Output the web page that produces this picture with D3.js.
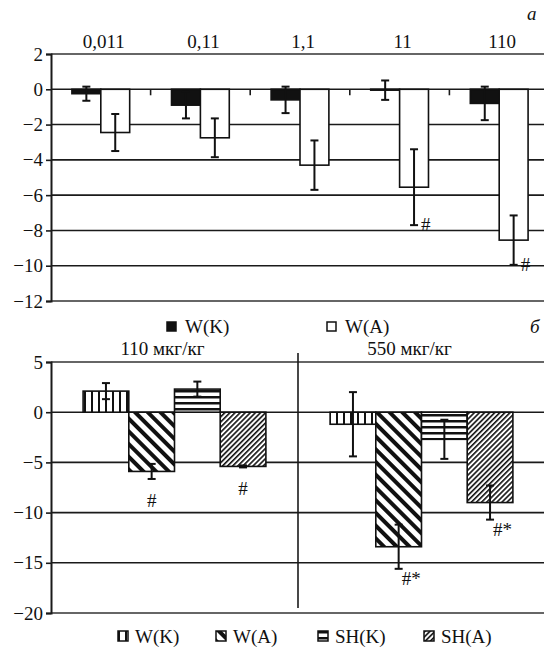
<!DOCTYPE html>
<html>
<head>
<meta charset="utf-8">
<script src="https://cdn.jsdelivr.net/npm/d3@7"></script>
<style>
  body { margin: 0; background: #fff; }
  svg { display: block; font-family: "Liberation Serif", "DejaVu Serif", serif; }
</style>
</head>
<body>
<svg id="chart" width="544" height="649"></svg>
<script>
// panel a
const doses = ['0,011', '0,11', '1,1', '11', '110'];
const seriesA = ['W(K)', 'W(A)'];
const wK = [-0.25, -0.9, -0.6, -0.05, -0.8];
const wKerr = [0.4, 0.75, 0.75, 0.55, 0.95];
const wA = [-2.45, -2.75, -4.3, -5.55, -8.55];
const wAerr = [1.05, 1.1, 1.4, 2.15, 1.4];
const wAmarks = ['', '', '', '#', '#'];
const ticksA = [2, 0, -2, -4, -6, -8, -10, -12];

// panel б
const doses2 = ['110 мкг/кг', '550 мкг/кг'];
const seriesB = ['W(K)', 'W(A)', 'SH(K)', 'SH(A)'];
const wK2 = [2.1, -1.2];
const wK2err = [0.8, 3.2];
const wA2 = [-5.9, -13.4];
const wA2err = [0.75, 2.2];
const shK2 = [2.3, -2.7];
const shK2err = [0.75, 1.95];
const shA2 = [-5.4, -9.0];
const shA2err = [0.1, 1.7];
const wA2marks = ['#', '#*'];
const shA2marks = ['#', '#*'];
const ticksB = [5, 0, -5, -10, -15, -20];

const svg = d3.select('#chart');
const left = 51, right = 545;
const fs = 19;

// patterns
const defs = svg.append('defs');
function stripes(id, size, w, angle) {
  const p = defs.append('pattern')
    .attr('id', id)
    .attr('patternUnits', 'userSpaceOnUse')
    .attr('width', size).attr('height', size)
    .attr('patternTransform', `rotate(${angle})`);
  p.append('rect').attr('width', size).attr('height', size).attr('fill', '#fff');
  p.append('rect').attr('width', w).attr('height', size).attr('fill', '#111');
}
stripes('pWK', 7, 2, 0);
stripes('pWA', 9, 4, -45);
stripes('pSHK', 6, 2.5, 90);
stripes('pSHA', 3.6, 1.6, 45);

function grid(g, y, ticks) {
  g.selectAll('line.grid')
    .data(ticks)
    .enter().append('line')
    .attr('x1', left).attr('x2', 544)
    .attr('y1', d => y(d)).attr('y2', d => y(d))
    .attr('stroke', (d, i) => (i === 0 || i === ticks.length - 1) ? '#666' : '#1a1a1a')
    .attr('stroke-width', (d, i) => (i === 0 || i === ticks.length - 1) ? 2 : 1.6);
}

function yAxis(g, y, ticks) {
  const ax = g.append('g')
    .attr('transform', `translate(${left},0)`)
    .call(d3.axisLeft(y).tickValues(ticks).tickSize(5).tickPadding(3)
      .tickFormat(d => d < 0 ? '\u2212' + Math.abs(d) : d));
  ax.select('.domain').attr('stroke', '#1a1a1a').attr('stroke-width', 2);
  ax.selectAll('.tick line').attr('stroke', '#1a1a1a').attr('stroke-width', 1.6);
  ax.selectAll('text').attr('font-size', fs).attr('fill', '#111')
    .attr('font-family', '"Liberation Serif", serif');
}

function errBars(g, pts) {
  const e = g.selectAll(null).data(pts).enter().append('g')
    .attr('stroke', '#111').attr('stroke-width', 2);
  e.append('line')
    .attr('x1', d => d.x).attr('x2', d => d.x)
    .attr('y1', d => d.y0).attr('y2', d => d.y1);
  e.append('line')
    .attr('x1', d => d.x - 4).attr('x2', d => d.x + 4)
    .attr('y1', d => d.y0).attr('y2', d => d.y0);
  e.append('line')
    .attr('x1', d => d.x - 4).attr('x2', d => d.x + 4)
    .attr('y1', d => d.y1).attr('y2', d => d.y1);
}

// ---------- panel a ----------
const ya = d3.scaleLinear().domain([-12, 2]).range([301, 54]);
const xa = d3.scaleBand().domain(doses).range([left, 549]).paddingInner(0.42).paddingOuter(0.21);
const xaIn = d3.scaleBand().domain(seriesA).range([0, xa.bandwidth()]);
const ga = svg.append('g');

grid(ga, ya, ticksA);

// x ticks at zero line, between groups
ga.selectAll('line.xt')
  .data(doses.slice(1))
  .enter().append('line')
  .attr('x1', d => xa(d) - xa.step() * xa.paddingInner() / 2)
  .attr('x2', d => xa(d) - xa.step() * xa.paddingInner() / 2)
  .attr('y1', ya(0)).attr('y2', ya(0) + 6)
  .attr('stroke', '#1a1a1a').attr('stroke-width', 1.6);

const rowsA = doses.map((d, i) => [
  { dose: d, s: 'W(K)', v: wK[i], e: wKerr[i], fill: '#111' },
  { dose: d, s: 'W(A)', v: wA[i], e: wAerr[i], fill: '#fff', mark: wAmarks[i] }
]).flat();

ga.selectAll('rect.bar')
  .data(rowsA)
  .enter().append('rect')
  .attr('x', d => xa(d.dose) + xaIn(d.s))
  .attr('width', xaIn.bandwidth())
  .attr('y', d => ya(Math.max(0, d.v)))
  .attr('height', d => Math.abs(ya(d.v) - ya(0)))
  .attr('fill', d => d.fill)
  .attr('stroke', '#111').attr('stroke-width', 1.6);

errBars(ga, rowsA.map(d => ({
  x: xa(d.dose) + xaIn(d.s) + xaIn.bandwidth() / 2,
  y0: ya(d.v + d.e), y1: ya(d.v - d.e), d
})).map(p => p.d.s === 'W(K)' ? Object.assign(p, {}) : p));

ga.selectAll('text.mark')
  .data(rowsA.filter(d => d.mark))
  .enter().append('text')
  .attr('x', d => xa(d.dose) + xaIn(d.s) + xaIn.bandwidth() / 2 + 7)
  .attr('y', d => ya(d.v - d.e) + 6)
  .attr('font-size', fs).attr('fill', '#111')
  .text(d => d.mark);

yAxis(ga, ya, ticksA);

ga.selectAll('text.cat')
  .data(doses)
  .enter().append('text')
  .attr('x', d => xa(d) + xa.bandwidth() / 2 + 3)
  .attr('y', 48)
  .attr('text-anchor', 'middle')
  .attr('font-size', fs).attr('fill', '#111')
  .text(d => d);

svg.append('text').attr('x', 527).attr('y', 20)
  .attr('font-size', fs).attr('font-style', 'italic').attr('fill', '#111').text('а');

// legend a
const legA = svg.append('g').selectAll('g')
  .data(seriesA).enter().append('g')
  .attr('transform', (d, i) => `translate(${167 + i * 160},322)`);
legA.append('rect').attr('width', 9).attr('height', 9)
  .attr('fill', (d, i) => i === 0 ? '#111' : '#fff')
  .attr('stroke', '#111').attr('stroke-width', 1.5);
legA.append('text').attr('x', 18).attr('y', 11)
  .attr('font-size', fs).attr('fill', '#111').text(d => d);

// ---------- panel б ----------
const yb = d3.scaleLinear().domain([-20, 5]).range([613, 362]);
const xb = d3.scaleBand().domain(doses2).range([left, right]).paddingInner(0.26).paddingOuter(0.13);
const xbIn = d3.scaleBand().domain(seriesB).range([0, xb.bandwidth()]);
const gb = svg.append('g');

grid(gb, yb, ticksB);

// divider between doses
gb.append('line')
  .attr('x1', xb(doses2[1]) - xb.step() * xb.paddingInner() / 2)
  .attr('x2', xb(doses2[1]) - xb.step() * xb.paddingInner() / 2)
  .attr('y1', 353).attr('y2', 608)
  .attr('stroke', '#1a1a1a').attr('stroke-width', 1.6);

const fillsB = { 'W(K)': 'url(#pWK)', 'W(A)': 'url(#pWA)', 'SH(K)': 'url(#pSHK)', 'SH(A)': 'url(#pSHA)' };
const rowsB = doses2.map((d, i) => [
  { dose: d, gi: i, s: 'W(K)', v: wK2[i], e: wK2err[i] },
  { dose: d, gi: i, s: 'W(A)', v: wA2[i], e: wA2err[i], mark: wA2marks[i] },
  { dose: d, gi: i, s: 'SH(K)', v: shK2[i], e: shK2err[i] },
  { dose: d, gi: i, s: 'SH(A)', v: shA2[i], e: shA2err[i], mark: shA2marks[i] }
]).flat();

gb.selectAll('rect.bar')
  .data(rowsB)
  .enter().append('rect')
  .attr('x', d => xb(d.dose) + xbIn(d.s))
  .attr('width', xbIn.bandwidth())
  .attr('y', d => yb(Math.max(0, d.v)))
  .attr('height', d => Math.abs(yb(d.v) - yb(0)))
  .attr('fill', d => fillsB[d.s])
  .attr('stroke', '#111').attr('stroke-width', 1.6);

errBars(gb, rowsB.map(d => ({
  x: xb(d.dose) + xbIn(d.s) + xbIn.bandwidth() / 2,
  y0: yb(d.v + d.e), y1: yb(d.v - d.e)
})));

gb.selectAll('text.mark')
  .data(rowsB.filter(d => d.mark))
  .enter().append('text')
  .attr('x', d => xb(d.dose) + xbIn(d.s) + xbIn.bandwidth() / 2 + (d.gi === 0 ? 0 : 3))
  .attr('y', d => yb(d.v - d.e) + (d.gi === 0 ? 28 : 16))
  .attr('text-anchor', d => d.gi === 0 ? 'middle' : 'start')
  .attr('font-size', fs).attr('fill', '#111')
  .text(d => d.mark);

yAxis(gb, yb, ticksB);

gb.selectAll('text.cat')
  .data(doses2)
  .enter().append('text')
  .attr('x', d => xb(d) + xb.bandwidth() / 2 - 12)
  .attr('y', 355)
  .attr('text-anchor', 'middle')
  .attr('font-size', fs).attr('fill', '#111')
  .text(d => d);

svg.append('text').attr('x', 530).attr('y', 333)
  .attr('font-size', fs).attr('font-style', 'italic').attr('fill', '#111').text('б');

// legend б
const legBx = [118, 216, 318, 424];
const legB = svg.append('g').selectAll('g')
  .data(seriesB).enter().append('g')
  .attr('transform', (d, i) => `translate(${legBx[i]},631)`);
legB.append('rect').attr('width', 10).attr('height', 10)
  .attr('fill', d => fillsB[d])
  .attr('stroke', '#111').attr('stroke-width', 1.5);
legB.append('text').attr('x', 17).attr('y', 12)
  .attr('font-size', fs).attr('fill', '#111').text(d => d);
</script>
</body>
</html>
